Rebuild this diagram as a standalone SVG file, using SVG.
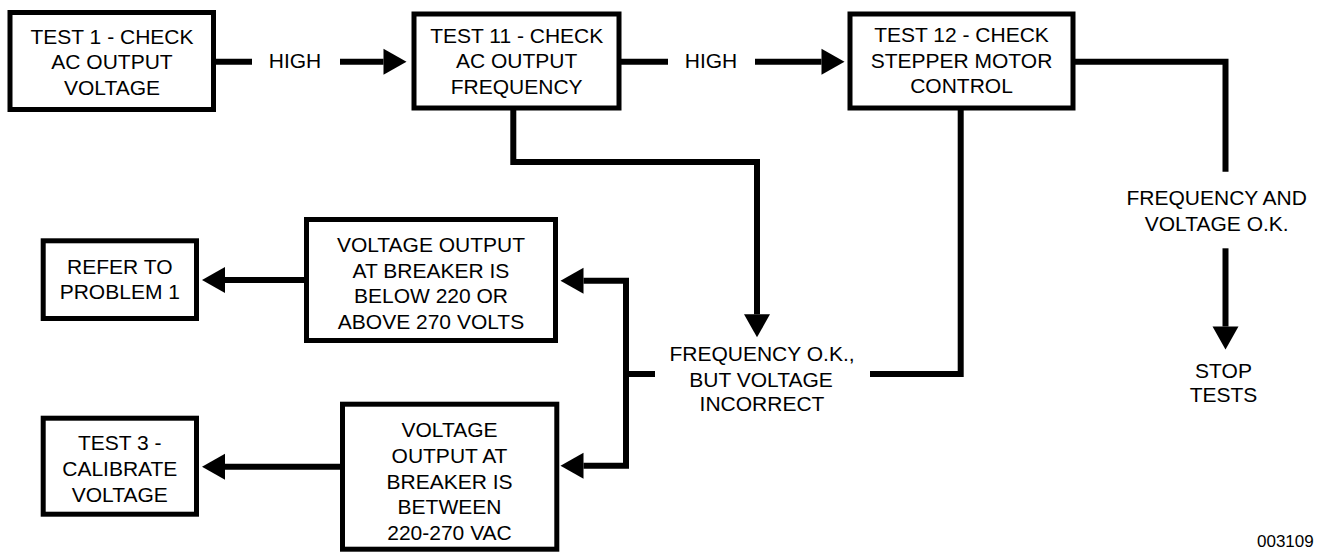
<svg xmlns="http://www.w3.org/2000/svg" width="1317" height="552" viewBox="0 0 1317 552">
  <style>
    .box { fill: #fff; stroke: #000; stroke-width: 5; }
    .t { font-family: "Liberation Sans", Arial, sans-serif; font-size: 21px; text-anchor: middle; fill: #000; }
    .c { fill: none; stroke: #000; stroke-width: 6; stroke-linejoin: miter; stroke-linecap: butt; }
  </style>
  <defs>
    <marker id="arr" markerUnits="userSpaceOnUse" markerWidth="23" markerHeight="26" refX="0" refY="13" orient="auto" overflow="visible">
      <path d="M0,0 L23,13 L0,26 Z" fill="#000"/>
    </marker>
  </defs>
  <rect width="1317" height="552" fill="#fff"/>

  <g id="connectors">
    <line class="c" x1="216" y1="61.7" x2="252" y2="61.7"/>
    <line class="c" x1="340" y1="61.7" x2="383.5" y2="61.7" marker-end="url(#arr)"/>
    <line class="c" x1="621" y1="61.7" x2="668" y2="61.7"/>
    <line class="c" x1="755" y1="61.7" x2="821.5" y2="61.7" marker-end="url(#arr)"/>
    <polyline class="c" points="1075,61.7 1225.5,61.7 1225.5,171.7"/>
    <line class="c" x1="1225.5" y1="248.3" x2="1225.5" y2="326.5" marker-end="url(#arr)"/>
    <polyline class="c" points="513.3,109 513.3,162 757,162 757,314.3" marker-end="url(#arr)"/>
    <polyline class="c" points="960.7,109 960.7,374 870,374"/>
    <line class="c" x1="655" y1="374" x2="626" y2="374"/>
    <polyline class="c" points="626,280.7 626,465.7"/>
    <line class="c" x1="629" y1="280.7" x2="583.5" y2="280.7" marker-end="url(#arr)"/>
    <line class="c" x1="629" y1="465.7" x2="583.5" y2="465.7" marker-end="url(#arr)"/>
    <line class="c" x1="305" y1="280" x2="225" y2="280" marker-end="url(#arr)"/>
    <line class="c" x1="341" y1="466.7" x2="225" y2="466.7" marker-end="url(#arr)"/>
  </g>

  <g id="test1">
    <rect class="box" x="10" y="12.5" width="203.5" height="97"/>
    <text class="t" x="112" y="43.5">TEST 1 - CHECK</text>
    <text class="t" x="112" y="69">AC OUTPUT</text>
    <text class="t" x="112" y="94.5">VOLTAGE</text>
  </g>

  <g id="test11">
    <rect class="box" x="414" y="14" width="205" height="94"/>
    <text class="t" x="516.7" y="42.5">TEST 11 - CHECK</text>
    <text class="t" x="516.7" y="68">AC OUTPUT</text>
    <text class="t" x="516.7" y="93.5">FREQUENCY</text>
  </g>

  <g id="test12">
    <rect class="box" x="850" y="14" width="223" height="94"/>
    <text class="t" x="961.5" y="42">TEST 12 - CHECK</text>
    <text class="t" x="961.5" y="67.5">STEPPER MOTOR</text>
    <text class="t" x="961.5" y="93">CONTROL</text>
  </g>

  <g id="high1">
    <text class="t" x="295" y="68.3">HIGH</text>
  </g>
  <g id="high2">
    <text class="t" x="711" y="68.3">HIGH</text>
  </g>

  <g id="freq-volt-ok">
    <text class="t" x="1216.7" y="205">FREQUENCY AND</text>
    <text class="t" x="1216.7" y="231">VOLTAGE O.K.</text>
  </g>

  <g id="stop-tests">
    <text class="t" x="1223.5" y="378.3">STOP</text>
    <text class="t" x="1223.5" y="402.3">TESTS</text>
  </g>

  <g id="freq-ok-volt-incorrect">
    <text class="t" x="762" y="361">FREQUENCY O.K.,</text>
    <text class="t" x="761" y="386.5">BUT VOLTAGE</text>
    <text class="t" x="762" y="411">INCORRECT</text>
  </g>

  <g id="volt-out-of-range">
    <rect class="box" x="306.5" y="219.5" width="249" height="121"/>
    <text class="t" x="431" y="252">VOLTAGE OUTPUT</text>
    <text class="t" x="431" y="277.5">AT BREAKER IS</text>
    <text class="t" x="431" y="303">BELOW 220 OR</text>
    <text class="t" x="431" y="328.5">ABOVE 270 VOLTS</text>
  </g>

  <g id="volt-in-range">
    <rect class="box" x="342.5" y="404.2" width="214.3" height="145"/>
    <text class="t" x="449.5" y="437.3">VOLTAGE</text>
    <text class="t" x="449.5" y="463">OUTPUT AT</text>
    <text class="t" x="449.5" y="488.5">BREAKER IS</text>
    <text class="t" x="449.5" y="514">BETWEEN</text>
    <text class="t" x="449.5" y="539.5">220-270 VAC</text>
  </g>

  <g id="refer-problem1">
    <rect class="box" x="43.2" y="240.8" width="153.3" height="77.7"/>
    <text class="t" x="119.8" y="274">REFER TO</text>
    <text class="t" x="119.8" y="299.3">PROBLEM 1</text>
  </g>

  <g id="test3">
    <rect class="box" x="43.2" y="418.2" width="153.3" height="96"/>
    <text class="t" x="119.8" y="450">TEST 3 -</text>
    <text class="t" x="119.8" y="476">CALIBRATE</text>
    <text class="t" x="119.8" y="501.7">VOLTAGE</text>
  </g>

  <text id="figure-number" x="1257" y="546.7" font-family="Liberation Sans, Arial, sans-serif" font-size="17" fill="#000">003109</text>
</svg>
